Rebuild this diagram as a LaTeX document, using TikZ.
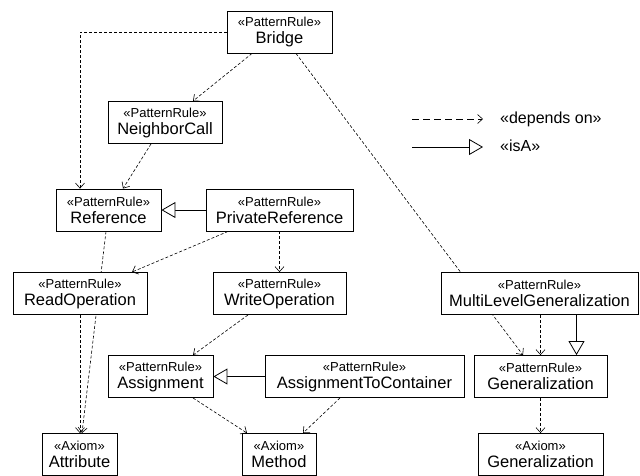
\documentclass[tikz,border=0pt]{standalone}
\usepackage{fontspec}
\setmainfont{Liberation Sans}
\usepackage{tikz}
\usetikzlibrary{arrows.meta,positioning,backgrounds}
\tikzset{
  rule/.style={draw, line width=0.9pt, fill=white, minimum height=42pt,
               inner xsep=2pt, inner ysep=3pt, align=center,
               font=\fontsize{16.5}{17}\selectfont},
  dep/.style={-{Straight Barb[length=5pt, width=9pt]}, line width=0.6pt,
              dash pattern=on 3pt off 2pt},
  isa/.style={-{Triangle[open, length=14pt, width=16pt, fill=white]}, line width=0.8pt},
  lgddep/.style={dep, dash pattern=on 6.5pt off 4.5pt},
  lgd/.style={anchor=west, inner sep=0pt, font=\fontsize{16}{17}\selectfont}
}
\newcommand{\stype}[1]{{\fontsize{13}{17}\selectfont «#1»}}

\begin{document}
\begin{tikzpicture}[x=1pt, y=-1pt]
\useasboundingbox (0,0) rectangle (640,475);
% pattern rules
\node[rule, minimum width=105pt] (bridge) at (279.5,32) {\stype{PatternRule}\\Bridge};
\node[rule, minimum width=114pt] (neighbor) at (165,122.5) {\stype{PatternRule}\\NeighborCall};
\node[rule, minimum width=105pt] (reference) at (108.5,210) {\stype{PatternRule}\\Reference};
\node[rule, minimum width=147pt] (privref) at (279.5,210) {\stype{PatternRule}\\PrivateReference};
\node[rule, minimum width=134pt] (readop) at (80,293.5) {\stype{PatternRule}\\ReadOperation};
\node[rule, minimum width=133pt] (writeop) at (279.5,293.5) {\stype{PatternRule}\\WriteOperation};
\node[rule, minimum width=197pt] (mlgen) at (539.5,293.5) {\stype{PatternRule}\\MultiLevelGeneralization};
\node[rule, minimum width=105pt] (assign) at (160.5,376.5) {\stype{PatternRule}\\Assignment};
\node[rule, minimum width=199pt] (assigncont) at (364.5,376.5) {\stype{PatternRule}\\AssignmentToContainer};
\node[rule, minimum width=133pt] (genrule) at (540.5,376.5) {\stype{PatternRule}\\Generalization};
% axioms
\node[rule, minimum width=75pt] (attribute) at (79.5,454.5) {\stype{Axiom}\\Attribute};
\node[rule, minimum width=74pt] (method) at (279,454.5) {\stype{Axiom}\\Method};
\node[rule, minimum width=125pt] (genaxiom) at (540.5,454.5) {\stype{Axiom}\\Generalization};
% dependencies passing behind boxes
\begin{scope}[on background layer]
\draw[dep] ([xshift=-2.5pt]reference.south) -- ([xshift=2.5pt]attribute.north);
\draw[dep] ([xshift=16.5pt]bridge.south) -- ([xshift=-17.5pt]genrule.north);
\end{scope}
% dependencies
\draw[dep] (bridge.west) -| ([xshift=-28.5pt]reference.north);
\draw[dep] ([xshift=-27.5pt]bridge.south) -- ([xshift=28pt]neighbor.north);
\draw[dep] ([xshift=-14pt]neighbor.south) -- ([xshift=14.5pt]reference.north);
\draw[dep] (readop.south) -- (readop.south |- attribute.north);
\draw[dep] ([xshift=-51.5pt]privref.south) -- ([xshift=52pt]readop.north);
\draw[dep] (privref) -- (writeop);
\draw[dep] ([xshift=-31.5pt]writeop.south) -- ([xshift=32.5pt]assign.north);
\draw[dep] ([xshift=32.5pt]assign.south) -- ([xshift=-32pt]method.north);
\draw[dep] ([xshift=-24.5pt]assigncont.south) -- ([xshift=24pt]method.north);
\draw[dep] ([xshift=1pt]mlgen.south) -- (genrule.north);
\draw[dep] (genrule) -- (genaxiom);
% generalizations
\draw[isa] (privref) -- (reference);
\draw[isa] (assigncont) -- (assign);
\draw[isa] ([xshift=37pt]mlgen.south) -- ([xshift=36pt]genrule.north);
% legend
\coordinate (depfrom) at (412,119);
\coordinate (depto) at (483,119);
\coordinate (isafrom) at (412,147);
\coordinate (isato) at (483,147);
\draw[lgddep] (depfrom) -- (depto);
\draw[isa] (isafrom) -- (isato);
\node[lgd] (deplbl) at (500,119) {«depends on»};
\node[lgd] (isalbl) at (500,146) {«isA»};
\end{tikzpicture}
\end{document}
